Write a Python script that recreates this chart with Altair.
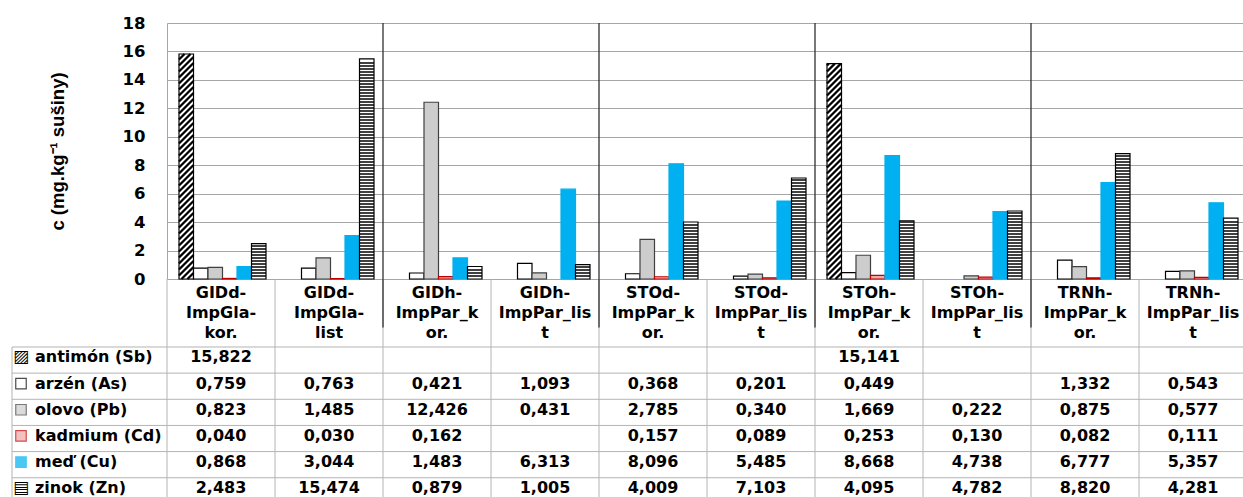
import altair as alt
import pandas as pd

# ---------------------------------------------------------------- data
categories = [
    "GIDd-ImpGla-kor.", "GIDd-ImpGla-list", "GIDh-ImpPar_kor.", "GIDh-ImpPar_list",
    "STOd-ImpPar_kor.", "STOd-ImpPar_list", "STOh-ImpPar_kor.", "STOh-ImpPar_list",
    "TRNh-ImpPar_kor.", "TRNh-ImpPar_list",
]
category_labels = [
    "GIDd-\nImpGla-\nkor.", "GIDd-\nImpGla-\nlist", "GIDh-\nImpPar_k\nor.", "GIDh-\nImpPar_lis\nt",
    "STOd-\nImpPar_k\nor.", "STOd-\nImpPar_lis\nt", "STOh-\nImpPar_k\nor.", "STOh-\nImpPar_lis\nt",
    "TRNh-\nImpPar_k\nor.", "TRNh-\nImpPar_lis\nt",
]
series = ["antimón (Sb)", "arzén (As)", "olovo (Pb)", "kadmium (Cd)", "meď (Cu)", "zinok (Zn)"]

antimon = [15.822, None, None, None, None, None, 15.141, None, None, None]
arzen = [0.759, 0.763, 0.421, 1.093, 0.368, 0.201, 0.449, None, 1.332, 0.543]
olovo = [0.823, 1.485, 12.426, 0.431, 2.785, 0.340, 1.669, 0.222, 0.875, 0.577]
kadmium = [0.040, 0.030, 0.162, None, 0.157, 0.089, 0.253, 0.130, 0.082, 0.111]
med = [0.868, 3.044, 1.483, 6.313, 8.096, 5.485, 8.668, 4.738, 6.777, 5.357]
zinok = [2.483, 15.474, 0.879, 1.005, 4.009, 7.103, 4.095, 4.782, 8.820, 4.281]
series_values = [antimon, arzen, olovo, kadmium, med, zinok]

y_ticks = list(range(0, 19, 2))
group_breaks = [2, 4, 6, 8]

# ---------------------------------------------------------------- layout
CAT_PX = 108.0          # pixels per category column
PLOT_W = 1076           # visible part of the plot area
PLOT_H = 256
Y_MAX = 18
PX_PER_UNIT = PLOT_H / Y_MAX
X_MAX = PLOT_W / CAT_PX
BAR_W = 14.5 / CAT_PX
GROUP_LEFT = 12 / CAT_PX
ROW_PX = 26.15
HEADER_ROWS = 2.6
TABLE_ROWS = HEADER_ROWS + len(series)
LEFT_COL = -155 / CAT_PX
TEXT_POS = 0.4          # vertical position of text inside a table row

fills = ["white", "white", "#cdcdcd", "#f0a8a8", "#00b0f0", "white"]
strokes = ["black", "black", "#404040", "#c00000", "#00b0f0", "black"]
FONT = "DejaVu Sans"
FS = 16
GRID = "#a6a6a6"
TABLE_LINE = "#b4b4b4"

# ---------------------------------------------------------------- bar geometry
bar_rows = []
for s, (name, vals) in enumerate(zip(series, series_values)):
    for i, v in enumerate(vals):
        if v is None:
            continue
        x0 = i + GROUP_LEFT + s * BAR_W
        bar_rows.append({"series": name, "cat": categories[i], "value": v,
                         "zero": 0.0, "x0": x0, "x1": x0 + BAR_W})
bars_df = pd.DataFrame(bar_rows)

# horizontal stripes of the zinc bars
stripe_rows = []
period = 3.0 / PX_PER_UNIT
for r in bars_df[bars_df.series == series[5]].itertuples():
    k = 1
    while k * period < r.value - 0.4 * period:
        stripe_rows.append({"x0": r.x0, "x1": r.x1, "y": k * period})
        k += 1
stripes_df = pd.DataFrame(stripe_rows)

# diagonal hatch of the antimony bars, clipped to each bar
hatch_rows = []
dy = BAR_W * CAT_PX / PX_PER_UNIT
step = 6.0 / PX_PER_UNIT
for r in bars_df[bars_df.series == series[0]].itertuples():
    ys = -dy
    while ys < r.value:
        t_lo = max(0.0, (0.0 - ys) / dy)
        t_hi = min(1.0, (r.value - ys) / dy)
        if t_hi > t_lo:
            w = r.x1 - r.x0
            hatch_rows.append({"x0": r.x0 + t_lo * w, "x1": r.x0 + t_hi * w,
                               "y0": ys + t_lo * dy, "y1": ys + t_hi * dy})
        ys += step
hatch_df = pd.DataFrame(hatch_rows)

# ---------------------------------------------------------------- scales
xscale = alt.Scale(domain=[0, X_MAX], nice=False, zero=False)
yscale = alt.Scale(domain=[0, Y_MAX], nice=False)
tscale = alt.Scale(domain=[0, TABLE_ROWS], range=[PLOT_H, PLOT_H + TABLE_ROWS * ROW_PX], nice=False)

yaxis = alt.Axis(
    values=y_ticks, grid=True, gridColor=GRID, gridWidth=1, domain=True, domainColor=GRID,
    ticks=False, labelFont=FONT, labelFontWeight="bold", labelFontSize=16.5, labelColor="black",
    labelPadding=22, title="c (mg.kg⁻¹ sušiny)", titleFont="Liberation Sans", titleFontSize=18.5,
    titleFontWeight="bold", titleColor="black", titleAngle=-90, titleX=-110, titleY=PLOT_H / 2,
    titleAlign="center", titleBaseline="middle",
)


def X(field):
    return alt.X(field, type="quantitative", scale=xscale, axis=None)


def Y(field):
    return alt.Y(field, type="quantitative", scale=yscale, axis=yaxis)


def T(field):
    return alt.Y(field, type="quantitative", scale=tscale, axis=None)


# ---------------------------------------------------------------- bar layers
bars = alt.Chart(bars_df).mark_rect(strokeWidth=1.2).encode(
    x=X("x0"), x2="x1", y=Y("value"), y2="zero",
    fill=alt.Fill("series:N", scale=alt.Scale(domain=series, range=fills), legend=None),
    stroke=alt.Stroke("series:N", scale=alt.Scale(domain=series, range=strokes), legend=None),
)
stripes = alt.Chart(stripes_df).mark_rule(color="black", strokeWidth=1.5).encode(
    x=X("x0"), x2="x1", y=Y("y"),
)
hatch = alt.Chart(hatch_df).mark_rule(color="black", strokeWidth=2.3).encode(
    x=X("x0"), x2="x1", y=Y("y0"), y2="y1",
)
sep_df = pd.DataFrame({"x": group_breaks, "lo": 0.0, "hi": float(Y_MAX)})
separators = alt.Chart(sep_df).mark_rule(color="#303030", strokeWidth=1.3).encode(
    x=X("x"), y=Y("lo"), y2="hi",
)
bar_group = alt.layer(bars, stripes, hatch, separators)

# ---------------------------------------------------------------- data table
hl = pd.DataFrame({"y": [HEADER_ROWS + k for k in range(len(series) + 1)],
                   "x0": LEFT_COL, "x1": float(len(categories))})
h_lines = alt.Chart(hl).mark_rule(color=TABLE_LINE, strokeWidth=1).encode(
    x=X("x0"), x2="x1", y=T("y"))

vl = pd.DataFrame({"x": list(range(len(categories) + 1)) + [LEFT_COL],
                   "y0": [0.0] * (len(categories) + 1) + [HEADER_ROWS],
                   "y1": float(TABLE_ROWS)})
v_lines = alt.Chart(vl).mark_rule(color=TABLE_LINE, strokeWidth=1).encode(
    x=X("x"), y=T("y0"), y2="y1")

sep_t = pd.DataFrame({"x": group_breaks, "y0": 0.0, "y1": 1.85})
t_separators = alt.Chart(sep_t).mark_rule(color="#303030", strokeWidth=1.3).encode(
    x=X("x"), y=T("y0"), y2="y1")

# three-line category captions; the first line sits at the given y
head_df = pd.DataFrame({"label": category_labels,
                        "x": [i + 0.5 for i in range(len(categories))],
                        "y": 0.54})
header = alt.Chart(head_df).mark_text(
    font=FONT, fontSize=FS, fontWeight="bold", color="black", lineBreak="\n",
    lineHeight=20, align="center", baseline="middle",
).encode(x=X("x"), y=T("y"), text="label:N")

cell_rows = []
for s, vals in enumerate(series_values):
    for i, v in enumerate(vals):
        if v is None:
            continue
        cell_rows.append({"x": i + 0.5, "y": HEADER_ROWS + s + TEXT_POS,
                          "txt": f"{v:.3f}".replace(".", ",")})
cells = alt.Chart(pd.DataFrame(cell_rows)).mark_text(
    font=FONT, fontSize=FS, fontWeight="bold", color="black", align="center", baseline="middle",
).encode(x=X("x"), y=T("y"), text="txt:N")

row_df = pd.DataFrame({"series": series, "x": -132 / CAT_PX,
                       "y": [HEADER_ROWS + s + TEXT_POS for s in range(len(series))]})
row_labels = alt.Chart(row_df).mark_text(
    font=FONT, fontSize=FS, fontWeight="bold", color="black", align="left", baseline="middle",
).encode(x=X("x"), y=T("y"), text="series:N")

# legend keys in front of the row labels
key_x = -146 / CAT_PX
plain_keys = row_df.iloc[1:5].assign(kx=key_x)
keys = alt.Chart(plain_keys).mark_point(shape="square", size=110, filled=True, strokeWidth=1.2).encode(
    x=X("kx"), y=T("y"),
    fill=alt.Fill("series:N", scale=alt.Scale(domain=series, range=fills), legend=None),
    stroke=alt.Stroke("series:N", scale=alt.Scale(domain=series, range=strokes), legend=None),
)
glyph_df = pd.DataFrame({"g": ["▨", "▤"], "kx": key_x,
                         "y": [HEADER_ROWS + TEXT_POS, HEADER_ROWS + 5 + TEXT_POS]})
glyph_keys = alt.Chart(glyph_df).mark_text(
    font=FONT, fontSize=17, color="black", align="center", baseline="middle",
).encode(x=X("kx"), y=T("y"), text="g:N")

table_group = alt.layer(h_lines, v_lines, t_separators, header, cells, row_labels, keys, glyph_keys)

chart = alt.layer(bar_group, table_group).resolve_scale(
    y="independent", fill="shared", stroke="shared"
).properties(
    width=PLOT_W, height=PLOT_H,
    autosize=alt.AutoSizeParams(type="none"),
    padding={"left": 167, "top": 23, "right": 0, "bottom": 497 - 23 - PLOT_H},
    background="white",
).configure_view(stroke=None)

chart.save("out.html", embed_options={"renderer": "svg", "actions": False})
